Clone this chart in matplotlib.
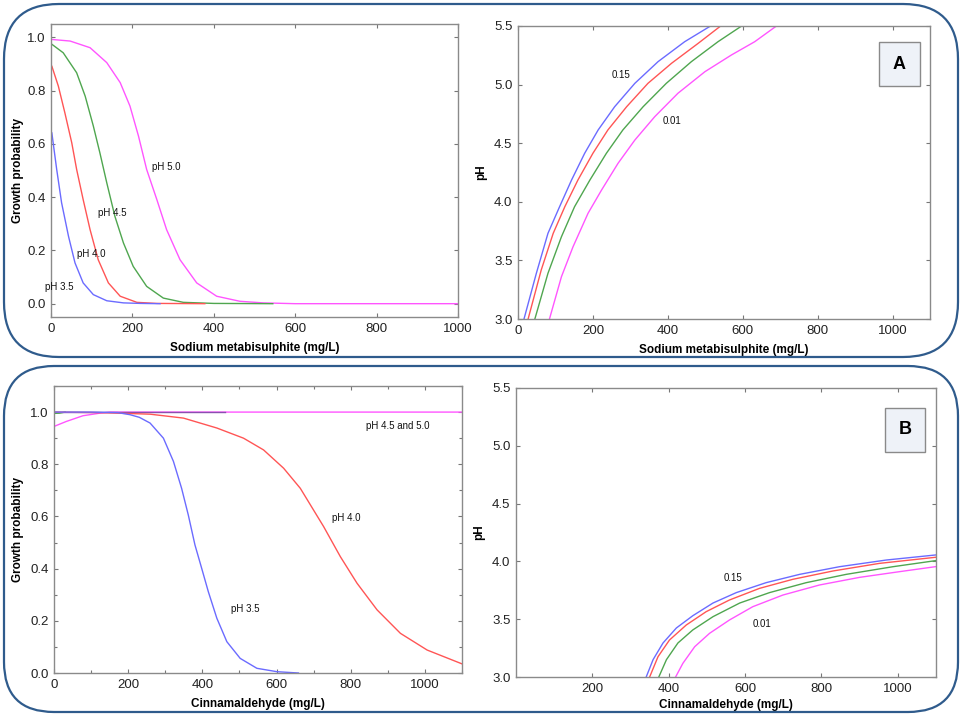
import matplotlib
matplotlib.use('Agg')
import matplotlib.pyplot as plt
from matplotlib.patches import FancyBboxPatch
from matplotlib.ticker import MultipleLocator

plt.rcParams['font.family'] = ['Liberation Sans', 'DejaVu Sans']

# colours of the four series
c_blue = '#6b6bff'
c_red = '#ff5555'
c_green = '#4fa64f'
c_mag = '#ff55ff'

# --- panel A, growth probability vs sodium metabisulphite ---
a_x35 = [0, 2, 14, 26, 43, 59, 79, 104, 137, 178, 220, 268]
a_y35 = [0.645, 0.642, 0.504, 0.379, 0.253, 0.153, 0.078, 0.034, 0.011, 0.003, 0.001, 0.0]
a_x40 = [0, 2, 18, 34, 51, 63, 79, 96, 116, 141, 170, 211, 260, 378]
a_y40 = [0.895, 0.892, 0.817, 0.717, 0.604, 0.504, 0.391, 0.278, 0.165, 0.078, 0.028, 0.005,
         0.001, 0.0]
a_x45 = [0, 2, 30, 63, 84, 104, 120, 137, 157, 178, 202, 235, 276, 325, 400, 545]
a_y45 = [0.976, 0.974, 0.942, 0.867, 0.779, 0.667, 0.567, 0.454, 0.328, 0.228, 0.14, 0.065,
         0.021, 0.005, 0.001, 0.0]
a_x50 = [0, 2, 47, 96, 137, 170, 194, 215, 235, 260, 284, 317, 358, 407, 464, 521, 600, 1000]
a_y50 = [0.993, 0.992, 0.986, 0.961, 0.905, 0.83, 0.742, 0.629, 0.504, 0.391, 0.278, 0.165,
         0.078, 0.028, 0.009, 0.003, 0.0, 0.0]

# --- panel A, pH contours (0.15 ... 0.01) ---
ac_x1 = [16, 49, 80, 111, 143, 178, 214, 258, 312, 374, 445, 514]
ac_y1 = [3.0, 3.39, 3.731, 3.958, 4.186, 4.414, 4.613, 4.811, 5.011, 5.196, 5.366, 5.5]
ac_x2 = [27, 62, 94, 125, 160, 200, 240, 290, 347, 410, 481, 541]
ac_y2 = [3.0, 3.418, 3.731, 3.958, 4.186, 4.414, 4.613, 4.811, 5.011, 5.182, 5.352, 5.5]
ac_x3 = [45, 80, 116, 151, 192, 236, 280, 334, 396, 463, 534, 597]
ac_y3 = [3.0, 3.39, 3.702, 3.958, 4.186, 4.414, 4.613, 4.811, 5.011, 5.196, 5.366, 5.5]
ac_x4 = [84, 116, 147, 187, 223, 267, 312, 365, 427, 499, 570, 632, 690]
ac_y4 = [3.0, 3.361, 3.617, 3.902, 4.1, 4.328, 4.527, 4.726, 4.926, 5.11, 5.253, 5.366, 5.5]

# --- panel B, growth probability vs cinnamaldehyde ---
b_x35 = [0, 100, 172, 205, 230, 259, 295, 322, 344, 362, 380, 398, 416, 439, 466, 502, 547,
         601, 659]
b_y35 = [1.0, 1.0, 0.998, 0.99, 0.98, 0.958, 0.90, 0.811, 0.708, 0.606, 0.491, 0.402, 0.312,
         0.21, 0.12, 0.056, 0.018, 0.005, 0.0]
b_x40 = [0, 124, 259, 349, 439, 511, 565, 619, 664, 727, 772, 817, 871, 934, 1006, 1100]
b_y40 = [1.0, 0.998, 0.992, 0.977, 0.939, 0.90, 0.855, 0.785, 0.708, 0.561, 0.446, 0.344,
         0.242, 0.152, 0.088, 0.035]
b_x45 = [0, 15, 30]
b_y45 = [0.995, 0.996, 1.0]
b_xtop = [0, 460]
b_ytop = [1.0, 1.0]
b_x50 = [0, 33, 78, 124, 150, 1100]
b_y50 = [0.945, 0.964, 0.986, 0.996, 1.0, 1.0]

# --- panel B, pH contours ---
bc_x1 = [341, 359, 385, 420, 463, 516, 577, 655, 743, 847, 970, 1100]
bc_y1 = [3.0, 3.15, 3.294, 3.424, 3.53, 3.64, 3.73, 3.816, 3.888, 3.954, 4.012, 4.056]
bc_x2 = [350, 372, 402, 446, 498, 559, 638, 725, 830, 952, 1100]
bc_y2 = [3.0, 3.176, 3.32, 3.45, 3.565, 3.666, 3.767, 3.845, 3.917, 3.983, 4.036]
bc_x3 = [374, 394, 424, 463, 516, 586, 664, 760, 865, 987, 1100]
bc_y3 = [3.0, 3.15, 3.294, 3.407, 3.522, 3.64, 3.73, 3.816, 3.888, 3.954, 4.007]
bc_x4 = [418, 437, 468, 507, 559, 620, 699, 795, 900, 1004, 1100]
bc_y4 = [3.0, 3.118, 3.262, 3.378, 3.493, 3.608, 3.709, 3.796, 3.862, 3.911, 3.955]

W, H = 964, 717
fig = plt.figure(figsize=(W / 100, H / 100), dpi=100)


def px_axes(l, t, r, b):
    return fig.add_axes([l / W, 1 - b / H, (r - l) / W, (b - t) / H])


def style(ax):
    for s in ax.spines.values():
        s.set_color('#8a8a8a')
        s.set_linewidth(1.0)
    ax.tick_params(direction='in', top=True, right=True, length=3, width=0.8,
                   color='#777777', labelsize=9.5, labelcolor='#222222', pad=4)
    ax.tick_params(which='minor', direction='in', top=True, right=True, length=2,
                   width=0.8, color='#777777')


def curve(ax, x, y, c):
    ax.plot(x, y, color=c, lw=1.0, solid_joinstyle='round')


# rounded frames
for (l, t, r, b, rad) in [(4, 4, 958, 357, 55), (4, 366, 958, 712, 50)]:
    fig.patches.append(FancyBboxPatch((l / W, 1 - b / H), (r - l) / W, (b - t) / H,
                                      boxstyle='round,pad=0,rounding_size=%f' % (rad / W),
                                      transform=fig.transFigure, fill=False,
                                      edgecolor='#2f5b8c', linewidth=1.6,
                                      mutation_aspect=W / H))

lbl = dict(fontsize=7, color='#111111')

# top left
ax1 = px_axes(51, 24, 458, 317)
curve(ax1, a_x50, a_y50, c_mag)
curve(ax1, a_x45, a_y45, c_green)
curve(ax1, a_x40, a_y40, c_red)
curve(ax1, a_x35, a_y35, c_blue)
ax1.set_xlim(0, 1000)
ax1.set_ylim(-0.05, 1.05)
ax1.set_xticks([0, 200, 400, 600, 800, 1000])
ax1.set_yticks([0.0, 0.2, 0.4, 0.6, 0.8, 1.0])
ax1.set_yticklabels(['0.0', '0.2', '0.4', '0.6', '0.8', '1.0'])
style(ax1)
ax1.set_xlabel('Sodium metabisulphite (mg/L)', fontsize=8.5, fontweight='bold', labelpad=5)
ax1.set_ylabel('Growth probability', fontsize=8.5, fontweight='bold', labelpad=2)
ax1.text(249, 0.50, 'pH 5.0', **lbl)
ax1.text(116, 0.33, 'pH 4.5', **lbl)
ax1.text(64, 0.175, 'pH 4.0', **lbl)
ax1.text(-14, 0.05, 'pH 3.5', **lbl)

# top right
ax2 = px_axes(518, 26, 930, 319)
curve(ax2, ac_x4, ac_y4, c_mag)
curve(ax2, ac_x3, ac_y3, c_green)
curve(ax2, ac_x2, ac_y2, c_red)
curve(ax2, ac_x1, ac_y1, c_blue)
ax2.set_xlim(0, 1100)
ax2.set_ylim(3.0, 5.5)
ax2.set_xticks([0, 200, 400, 600, 800, 1000])
ax2.set_yticks([3.0, 3.5, 4.0, 4.5, 5.0, 5.5])
ax2.set_yticklabels(['3.0', '3.5', '4.0', '4.5', '5.0', '5.5'])
style(ax2)
ax2.set_xlabel('Sodium metabisulphite (mg/L)', fontsize=8.5, fontweight='bold', labelpad=5)
ax2.set_ylabel('pH', fontsize=8.5, fontweight='bold', labelpad=5)
ax2.text(250, 5.06, '0.15', **lbl)
ax2.text(386, 4.66, '0.01', **lbl)
ax2.text(0.926, 0.87, 'A', transform=ax2.transAxes, ha='center', va='center',
         fontsize=13, fontweight='bold',
         bbox=dict(boxstyle='square,pad=0.75', fc='#eef2f8', ec='#8a8a8a', lw=1.0))

# bottom left
ax3 = px_axes(54, 386, 462, 673)
curve(ax3, b_x50, b_y50, c_mag)
curve(ax3, b_xtop, b_ytop, '#8a4fb0')
curve(ax3, b_x45, b_y45, c_green)
curve(ax3, b_x40, b_y40, c_red)
curve(ax3, b_x35, b_y35, c_blue)
ax3.set_xlim(0, 1100)
ax3.set_ylim(0, 1.1)
ax3.set_xticks([0, 200, 400, 600, 800, 1000])
ax3.set_yticks([0.0, 0.2, 0.4, 0.6, 0.8, 1.0])
ax3.set_yticklabels(['0.0', '0.2', '0.4', '0.6', '0.8', '1.0'])
ax3.xaxis.set_minor_locator(MultipleLocator(100))
ax3.yaxis.set_minor_locator(MultipleLocator(0.1))
style(ax3)
ax3.set_xlabel('Cinnamaldehyde (mg/L)', fontsize=8.5, fontweight='bold', labelpad=5)
ax3.set_ylabel('Growth probability', fontsize=8.5, fontweight='bold', labelpad=4)
ax3.text(840, 0.935, 'pH 4.5 and 5.0', **lbl)
ax3.text(749, 0.582, 'pH 4.0', **lbl)
ax3.text(478, 0.232, 'pH 3.5', **lbl)

# bottom right
ax4 = px_axes(516, 388, 936, 677)
curve(ax4, bc_x4, bc_y4, c_mag)
curve(ax4, bc_x3, bc_y3, c_green)
curve(ax4, bc_x2, bc_y2, c_red)
curve(ax4, bc_x1, bc_y1, c_blue)
ax4.set_xlim(0, 1100)
ax4.set_ylim(3.0, 5.5)
ax4.set_xticks([200, 400, 600, 800, 1000])
ax4.set_yticks([3.0, 3.5, 4.0, 4.5, 5.0, 5.5])
ax4.set_yticklabels(['3.0', '3.5', '4.0', '4.5', '5.0', '5.5'])
style(ax4)
ax4.set_xlabel('Cinnamaldehyde (mg/L)', fontsize=8.5, fontweight='bold', labelpad=3)
ax4.set_ylabel('pH', fontsize=8.5, fontweight='bold', labelpad=5)
ax4.text(545, 3.83, '0.15', **lbl)
ax4.text(620, 3.43, '0.01', **lbl)
ax4.text(0.926, 0.855, 'B', transform=ax4.transAxes, ha='center', va='center',
         fontsize=13, fontweight='bold',
         bbox=dict(boxstyle='square,pad=0.75', fc='#eef2f8', ec='#8a8a8a', lw=1.0))

fig.savefig('out.png', dpi=100)
